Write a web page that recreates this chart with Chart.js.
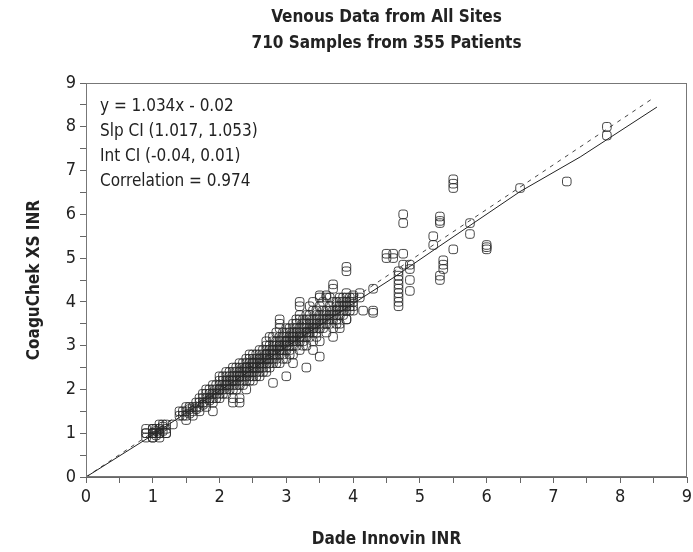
<!DOCTYPE html>
<html>
<head>
<meta charset="utf-8">
<script src="https://cdn.jsdelivr.net/npm/chart.js@4.4.1/dist/chart.umd.min.js"></script>
<style>
  html, body { margin: 0; padding: 0; background: #fff; }
</style>
</head>
<body>
<canvas id="myChart" width="693" height="552"></canvas>
<script>
const FONT = '"Liberation Sans Narrow", "DejaVu Sans Condensed", sans-serif'

const titleLines = ['Venous Data from All Sites', '710 Samples from 355 Patients']
const statLines = ['y = 1.034x - 0.02', 'Slp CI (1.017, 1.053)', 'Int CI (-0.04, 0.01)', 'Correlation = 0.974']
const axisTicks = [0, 1, 2, 3, 4, 5, 6, 7, 8, 9]

// Dade Innovin INR (x) columns and the CoaguChek XS INR readings (y) seen at each
const dadeInr = [
  0.9, 1.0, 1.1, 1.2, 1.3, 1.4, 1.5, 1.6, 1.7, 1.8, 1.9,
  2.0, 2.1, 2.2, 2.3, 2.4, 2.5, 2.6, 2.7, 2.8, 2.9,
  3.0, 3.1, 3.2, 3.3, 3.4, 3.5, 3.6, 3.7, 3.8, 3.9,
  4.0, 4.1, 4.15, 4.3, 4.5, 4.6, 4.68, 4.75, 4.85,
  5.2, 5.3, 5.35, 5.5, 5.75, 6.0, 6.5, 7.2, 7.8,
  1.05, 1.15, 1.45, 1.55, 1.65, 1.75, 1.85, 1.95,
  2.05, 2.15, 2.25, 2.35, 2.45, 2.55, 2.65, 2.75, 2.85, 2.95,
  3.05, 3.15, 3.25, 3.35, 3.45, 3.55, 3.65, 3.75, 3.85, 3.95
]
const coaguChekInr = [
  [0.9, 1.0, 1.0, 1.1],
  [0.9, 0.9, 1.0, 1.0, 1.0, 1.1, 1.1, 1.0],
  [0.9, 1.0, 1.0, 1.1, 1.2, 1.0],
  [1.0, 1.1, 1.2, 1.0],
  [1.2],
  [1.4, 1.5],
  [1.4, 1.5, 1.3, 1.6],
  [1.5, 1.6, 1.4],
  [1.6, 1.7, 1.8, 1.5],
  [1.7, 1.8, 1.9, 1.6, 2.0],
  [1.8, 1.9, 2.0, 1.5, 1.7, 2.1],
  [1.9, 2.0, 2.1, 2.2, 1.8, 2.0, 2.3],
  [2.0, 2.1, 2.2, 2.3, 1.9, 2.1, 2.4],
  [2.1, 2.2, 2.3, 2.4, 2.0, 1.8, 1.7, 2.2, 2.5],
  [2.2, 2.3, 2.4, 2.5, 2.1, 1.8, 1.7, 2.6, 2.3],
  [2.3, 2.4, 2.5, 2.6, 2.2, 2.0, 2.7, 2.4, 2.5],
  [2.4, 2.5, 2.6, 2.7, 2.3, 2.2, 2.8, 2.5, 2.6],
  [2.5, 2.6, 2.7, 2.8, 2.4, 2.3, 2.9, 2.6, 2.7],
  [2.6, 2.7, 2.8, 2.9, 2.5, 2.4, 3.0, 2.8, 2.7, 3.1],
  [2.7, 2.8, 2.9, 3.0, 2.6, 2.15, 3.1, 2.8, 2.9, 3.2],
  [2.8, 2.9, 3.0, 3.1, 2.6, 3.2, 3.4, 3.5, 3.6, 2.9, 3.0],
  [2.9, 3.0, 3.1, 3.2, 2.7, 2.3, 3.3, 3.4, 3.0, 3.1],
  [3.0, 3.1, 3.2, 3.3, 2.8, 2.6, 3.4, 3.5, 3.1, 3.2],
  [3.1, 3.2, 3.3, 3.4, 2.9, 3.6, 3.7, 3.9, 4.0, 3.2],
  [3.2, 3.3, 3.4, 3.5, 3.0, 2.5, 3.6, 3.7, 3.3],
  [3.3, 3.4, 3.5, 3.6, 3.1, 2.9, 3.8, 4.0, 3.4],
  [3.4, 3.5, 3.6, 3.7, 3.1, 2.75, 3.9, 4.1, 4.15],
  [3.5, 3.6, 3.7, 3.8, 3.3, 4.1, 4.15],
  [3.6, 3.7, 3.8, 3.4, 4.3, 4.4, 3.2, 4.0],
  [3.7, 3.8, 3.9, 4.0, 3.5, 3.4, 4.1],
  [3.8, 3.9, 4.0, 4.1, 3.6, 3.6, 4.7, 4.8, 4.2],
  [3.9, 4.0, 4.1, 4.15, 3.8],
  [4.1, 4.2],
  [3.8],
  [4.3, 3.8, 3.75],
  [5.0, 5.1],
  [5.0, 5.1],
  [4.7, 4.6, 4.5, 4.4, 4.3, 4.2, 4.1, 4.0, 3.9],
  [6.0, 5.8, 5.1, 4.85],
  [4.85, 4.75, 4.5, 4.25],
  [5.5, 5.3],
  [5.95, 5.85, 5.8, 4.6, 4.5],
  [4.95, 4.85, 4.75],
  [6.8, 6.7, 6.6, 5.2],
  [5.8, 5.55],
  [5.3, 5.25, 5.2],
  [6.6],
  [6.75],
  [8.0, 7.8],
  [1.0, 0.95, 1.05, 1.1],
  [1.05, 1.15, 1.2],
  [1.5, 1.4],
  [1.45, 1.55, 1.6],
  [1.6, 1.7, 1.55],
  [1.7, 1.8, 1.9, 1.65],
  [1.8, 1.9, 1.75, 2.0],
  [1.9, 2.0, 2.1, 1.8],
  [2.0, 2.1, 2.2, 1.9, 2.3],
  [2.1, 2.2, 2.3, 2.0, 2.4],
  [2.2, 2.3, 2.4, 2.5, 2.1, 2.0],
  [2.3, 2.4, 2.5, 2.6, 2.2, 2.1],
  [2.4, 2.5, 2.6, 2.7, 2.3, 2.2, 2.8],
  [2.5, 2.6, 2.7, 2.4, 2.3, 2.8],
  [2.6, 2.7, 2.8, 2.9, 2.5, 2.4],
  [2.7, 2.8, 2.9, 3.0, 2.6, 2.5, 3.2],
  [2.8, 2.9, 3.0, 3.1, 2.7, 3.3, 2.6],
  [2.9, 3.0, 3.1, 3.2, 2.8, 3.3, 2.7],
  [3.0, 3.1, 3.2, 3.3, 2.9, 3.4, 2.8],
  [3.1, 3.2, 3.3, 3.4, 3.0, 3.5, 3.6],
  [3.2, 3.3, 3.4, 3.5, 3.1, 3.6, 3.0],
  [3.3, 3.4, 3.5, 3.6, 3.2, 3.7, 3.9],
  [3.4, 3.5, 3.6, 3.7, 3.3, 3.8, 3.2],
  [3.5, 3.6, 3.7, 3.8, 3.4, 4.0],
  [3.6, 3.7, 3.8, 3.9, 3.5, 4.1],
  [3.7, 3.8, 3.9, 4.0, 3.6, 3.5],
  [3.8, 3.9, 4.0, 4.1, 3.7],
  [3.9, 4.0, 4.1, 3.8]
]

// fitted curves as they appear in the figure
const smoothX = [0, 1, 2, 3, 4, 4.6, 5.3, 6.5, 7.4, 8.55]
const smoothY = [0, 0.96, 1.97, 2.97, 3.96, 4.55, 5.28, 6.52, 7.31, 8.45]
const regressX = [0, 8.5]
const regressY = [0, 8.66]

const samples = []
dadeInr.forEach((x, i) => coaguChekInr[i].forEach(y => samples.push({x: x, y: y})))

const zip = (xs, ys) => xs.map((x, i) => ({x: x, y: ys[i]}))

const frameAndText = {
  id: 'frameAndText',
  afterDraw(chart) {
    const {ctx, chartArea: a} = chart
    ctx.save()
    ctx.strokeStyle = '#777'
    ctx.lineWidth = 1
    ctx.strokeRect(a.left + 0.5, a.top + 0.5, a.right - a.left - 1, a.bottom - a.top - 1)

    ctx.fillStyle = '#222'
    ctx.textBaseline = 'middle'
    ctx.font = '17px ' + FONT
    statLines.forEach((t, i) => ctx.fillText(t, a.left + 14, 107 + i * 25))

    ctx.font = 'bold 17px ' + FONT
    ctx.textAlign = 'center'
    titleLines.forEach((t, i) => ctx.fillText(t, (a.left + a.right) / 2, 18 + i * 26))
    ctx.restore()
  }
}

const tickLabel = v => (axisTicks.includes(v) ? String(v) : '')

new Chart(document.getElementById('myChart'), {
  type: 'scatter',
  data: {
    datasets: [
      {
        data: samples,
        pointStyle: 'rectRounded',
        radius: 5,
        borderWidth: 1,
        borderColor: 'rgba(40,40,40,0.85)',
        backgroundColor: 'rgba(255,255,255,0)'
      },
      {
        type: 'line',
        data: zip(smoothX, smoothY),
        borderColor: '#222',
        borderWidth: 1,
        pointRadius: 0,
        tension: 0
      },
      {
        type: 'line',
        data: zip(regressX, regressY),
        borderColor: '#444',
        borderWidth: 1,
        borderDash: [4, 5],
        pointRadius: 0
      }
    ]
  },
  options: {
    responsive: false,
    animation: false,
    devicePixelRatio: 1,
    layout: { padding: { top: 83, right: 6, left: 0, bottom: 0 } },
    plugins: { legend: { display: false }, tooltip: { enabled: false } },
    scales: {
      x: {
        type: 'linear',
        min: 0,
        max: 9,
        afterFit: s => { s.height = 75; s.paddingLeft = 0; s.paddingRight = 0 },
        ticks: { stepSize: 0.5, autoSkip: false, maxRotation: 0, callback: tickLabel,
          color: '#222', font: { family: FONT, size: 18 }, padding: 4 },
        grid: { drawOnChartArea: false, drawTicks: true, tickLength: 6, color: '#666' },
        border: { color: '#666' },
        title: { display: true, text: 'Dade Innovin INR', color: '#222',
          font: { family: FONT, size: 17, weight: 'bold' }, padding: { top: 0, bottom: 2 } }
      },
      y: {
        type: 'linear',
        min: 0,
        max: 9,
        afterFit: s => { s.width = 86; s.paddingTop = 0; s.paddingBottom = 0 },
        ticks: { stepSize: 0.5, autoSkip: false, callback: tickLabel,
          color: '#222', font: { family: FONT, size: 18 }, padding: 4 },
        grid: { drawOnChartArea: false, drawTicks: true, tickLength: 6, color: '#666' },
        border: { color: '#666' },
        title: { display: true, text: 'CoaguChek XS INR', color: '#222',
          font: { family: FONT, size: 17, weight: 'bold' }, padding: { top: 24, bottom: 0 } }
      }
    }
  },
  plugins: [frameAndText]
})
</script>
</body>
</html>
